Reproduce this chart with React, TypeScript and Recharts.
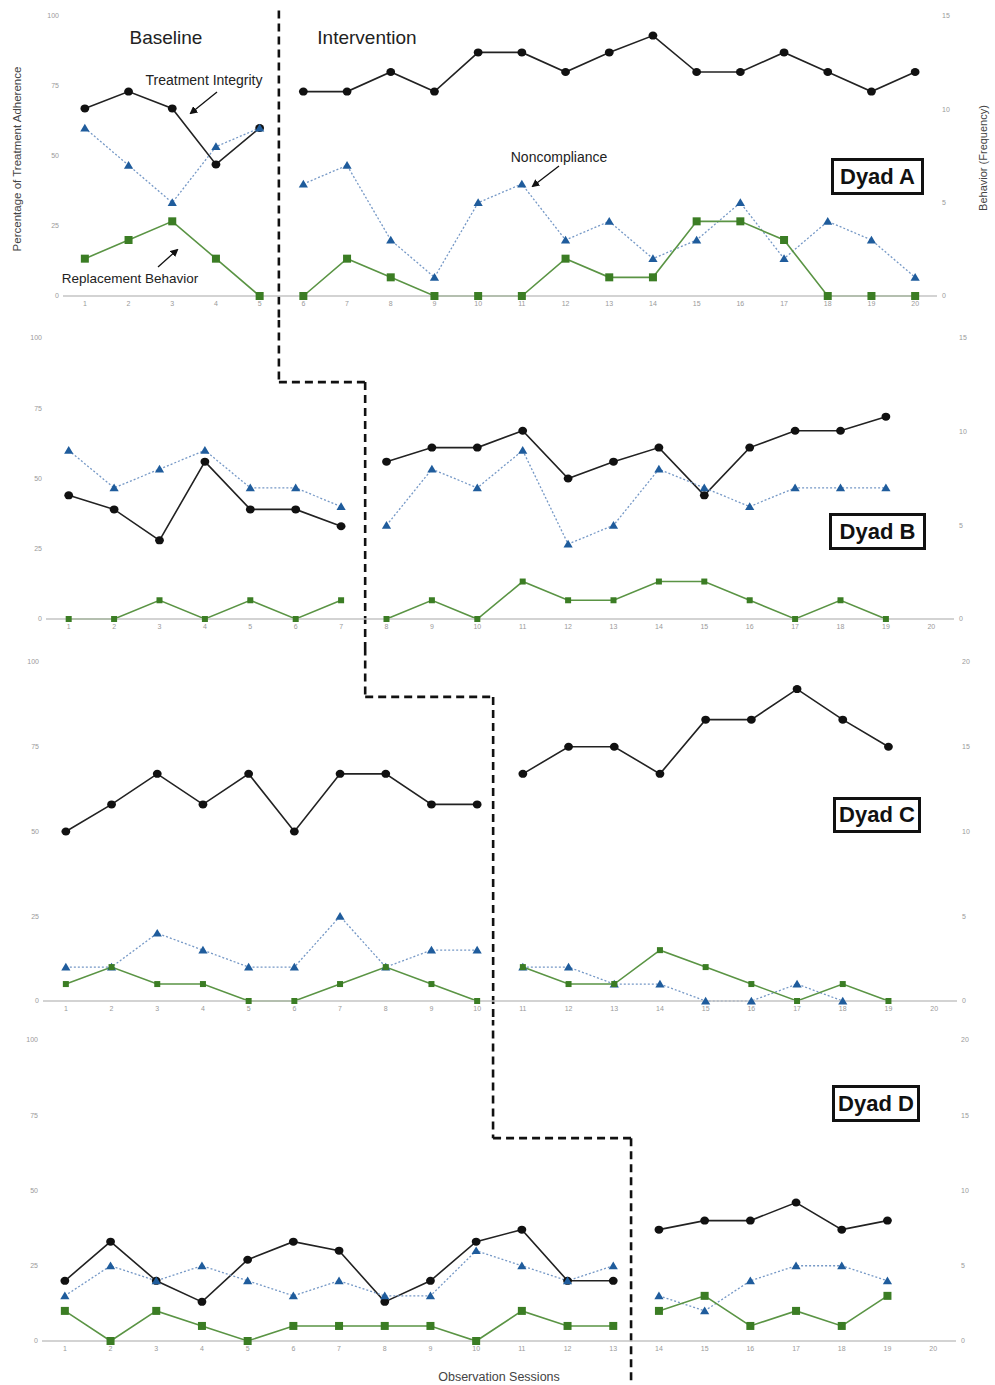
import React from 'react';
import { LineChart, Line, XAxis, YAxis, ReferenceLine } from 'recharts';

const W = 995;
const H = 1385;
const FONT = '"Liberation Sans", Arial, Helvetica, sans-serif';

const sessions = [1, 2, 3, 4, 5, 6, 7, 8, 9, 10, 11, 12, 13, 14, 15, 16, 17, 18, 19, 20];
const pctTicks = [0, 25, 50, 75, 100];
const freqTicks15 = [0, 5, 10, 15];
const freqTicks20 = [0, 5, 10, 15, 20];

// treatment integrity in %, noncompliance / replacement behaviour as frequency
const dyadATI = [67, 73, 67, 47, 60, 73, 73, 80, 73, 87, 87, 80, 87, 93, 80, 80, 87, 80, 73, 80];
const dyadANC = [9, 7, 5, 8, 9, 6, 7, 3, 1, 5, 6, 3, 4, 2, 3, 5, 2, 4, 3, 1];
const dyadARB = [2, 3, 4, 2, 0, 0, 2, 1, 0, 0, 0, 2, 1, 1, 4, 4, 3, 0, 0, 0];

const dyadBTI = [44, 39, 28, 56, 39, 39, 33, 56, 61, 61, 67, 50, 56, 61, 44, 61, 67, 67, 72];
const dyadBNC = [9, 7, 8, 9, 7, 7, 6, 5, 8, 7, 9, 4, 5, 8, 7, 6, 7, 7, 7];
const dyadBRB = [0, 0, 1, 0, 1, 0, 1, 0, 1, 0, 2, 1, 1, 2, 2, 1, 0, 1, 0];

const dyadCTI = [50, 58, 67, 58, 67, 50, 67, 67, 58, 58, 67, 75, 75, 67, 83, 83, 92, 83, 75];
const dyadCNC = [2, 2, 4, 3, 2, 2, 5, 2, 3, 3, 2, 2, 1, 1, 0, 0, 1, 0];
const dyadCRB = [1, 2, 1, 1, 0, 0, 1, 2, 1, 0, 2, 1, 1, 3, 2, 1, 0, 1, 0];

const dyadDTI = [20, 33, 20, 13, 27, 33, 30, 13, 20, 33, 37, 20, 20, 37, 40, 40, 46, 37, 40];
const dyadDNC = [3, 5, 4, 5, 4, 3, 4, 3, 3, 6, 5, 4, 5, 3, 2, 4, 5, 5, 4];
const dyadDRB = [2, 0, 2, 1, 0, 1, 1, 1, 1, 0, 2, 1, 1, 2, 3, 1, 2, 1, 3];

const baselineLengths = [5, 7, 10, 13];

// phase-change staircase: x of upper vertical, x of lower vertical (session units), y of step (%)
const phaseUpperX = [5.44, 5.63, 7.55, 10.37];
const phaseLowerX = [5.44, 7.53, 10.35, 13.39];
const phaseStepY = [102, 84.3, 89.7, 67.4];

type Row = Record<string, number | undefined>;

function buildRows(ti: number[], nc: number[], rb: number[], baseLen: number): Row[] {
  return sessions.map((s, i) => {
    const base = i < baseLen;
    return {
      session: s,
      tiB: base ? ti[i] : undefined,
      tiI: base ? undefined : ti[i],
      ncB: base ? nc[i] : undefined,
      ncI: base ? undefined : nc[i],
      rbB: base ? rb[i] : undefined,
      rbI: base ? undefined : rb[i],
    };
  });
}

const panels = [
  {
    name: 'Dyad A',
    rows: buildRows(dyadATI, dyadANC, dyadARB, baselineLengths[0]),
    freqTicks: freqTicks15,
    top: 0, height: 320, plotLeft: 63, plotRight: 937, plotTop: 16, plotBottom: 296,
    sq: 4, box: { left: 831, top: 158, width: 93, height: 37 },
  },
  {
    name: 'Dyad B',
    rows: buildRows(dyadBTI, dyadBNC, dyadBRB, baselineLengths[1]),
    freqTicks: freqTicks15,
    top: 320, height: 330, plotLeft: 46, plotRight: 954, plotTop: 18, plotBottom: 299,
    sq: 3, box: { left: 829, top: 513, width: 97, height: 37 },
  },
  {
    name: 'Dyad C',
    rows: buildRows(dyadCTI, dyadCNC, dyadCRB, baselineLengths[2]),
    freqTicks: freqTicks20,
    top: 650, height: 370, plotLeft: 43, plotRight: 957, plotTop: 12, plotBottom: 351,
    sq: 3, box: { left: 833, top: 797, width: 88, height: 36 },
  },
  {
    name: 'Dyad D',
    rows: buildRows(dyadDTI, dyadDNC, dyadDRB, baselineLengths[3]),
    freqTicks: freqTicks20,
    top: 1020, height: 365, plotLeft: 42, plotRight: 956, plotTop: 20, plotBottom: 321,
    sq: 4, box: { left: 832, top: 1085, width: 88, height: 37 },
  },
];

const tickStyle = { fontSize: 7, fill: '#9a9a9a', fontFamily: FONT };

function circleDot(props: any) {
  const { cx, cy, index, dataKey } = props;
  if (cx == null || cy == null) return <g key={`${dataKey}-${index}`} />;
  return <ellipse key={`${dataKey}-${index}`} cx={cx} cy={cy} rx={4.4} ry={4} fill="#111" />;
}

function triangleDot(props: any) {
  const { cx, cy, index, dataKey } = props;
  if (cx == null || cy == null) return <g key={`${dataKey}-${index}`} />;
  return (
    <polygon
      key={`${dataKey}-${index}`}
      points={`${cx},${cy - 4.3} ${cx + 4.6},${cy + 3.4} ${cx - 4.6},${cy + 3.4}`}
      fill="#1f5c9c"
    />
  );
}

function squareDot(half: number) {
  return (props: any) => {
    const { cx, cy, index, dataKey } = props;
    if (cx == null || cy == null) return <g key={`${dataKey}-${index}`} />;
    return (
      <rect
        key={`${dataKey}-${index}`}
        x={cx - half}
        y={cy - half}
        width={half * 2}
        height={half * 2}
        fill="#3b7d24"
      />
    );
  };
}

function DyadPanel({ p, idx }: { p: (typeof panels)[number]; idx: number }) {
  const yW = 30;
  const xH = 16;
  const margin = {
    top: p.plotTop,
    left: p.plotLeft - yW,
    right: W - p.plotRight - yW,
    bottom: p.height - p.plotBottom - xH,
  };
  const ux = phaseUpperX[idx];
  const lx = phaseLowerX[idx];
  const sy = phaseStepY[idx];
  const segments =
    idx === 0
      ? [[{ x: ux, y: sy }, { x: ux, y: -120 }]]
      : [
          [{ x: ux, y: 250 }, { x: ux, y: sy }],
          [{ x: ux, y: sy }, { x: lx, y: sy }],
          [{ x: lx, y: sy }, { x: lx, y: -120 }],
        ];
  const sqDot = squareDot(p.sq);

  return (
    <div style={{ position: 'absolute', left: 0, top: p.top, width: W, height: p.height }}>
      <LineChart width={W} height={p.height} data={p.rows} margin={margin}>
        <XAxis
          dataKey="session"
          type="number"
          domain={[0.5, 20.5]}
          ticks={sessions}
          interval={0}
          allowDataOverflow
          height={xH}
          axisLine={{ stroke: '#c4c4c4', strokeWidth: 1.5 }}
          tickLine={false}
          tickSize={0}
          tickMargin={5}
          tick={tickStyle}
        />
        <YAxis
          yAxisId="pct"
          orientation="left"
          domain={[0, 100]}
          ticks={pctTicks}
          width={yW}
          axisLine={false}
          tickLine={false}
          tickSize={0}
          tickMargin={4}
          tick={tickStyle}
        />
        <YAxis
          yAxisId="freq"
          orientation="right"
          domain={[0, p.freqTicks[p.freqTicks.length - 1]]}
          ticks={p.freqTicks}
          width={yW}
          axisLine={false}
          tickLine={false}
          tickSize={0}
          tickMargin={5}
          tick={tickStyle}
        />
        {segments.map((seg, i) => (
          <ReferenceLine
            key={`phase-${i}`}
            yAxisId="pct"
            segment={seg}
            ifOverflow="visible"
            stroke="#111"
            strokeWidth={2.6}
            strokeDasharray="8 5"
          />
        ))}
        {['tiB', 'tiI'].map((k) => (
          <Line
            key={k}
            yAxisId="pct"
            dataKey={k}
            type="linear"
            stroke="#222"
            strokeWidth={1.6}
            dot={circleDot}
            activeDot={false}
            isAnimationActive={false}
          />
        ))}
        {['ncB', 'ncI'].map((k) => (
          <Line
            key={k}
            yAxisId="freq"
            dataKey={k}
            type="linear"
            stroke="#7598c6"
            strokeWidth={1.3}
            strokeDasharray="2 2"
            dot={triangleDot}
            activeDot={false}
            isAnimationActive={false}
          />
        ))}
        {['rbB', 'rbI'].map((k) => (
          <Line
            key={k}
            yAxisId="freq"
            dataKey={k}
            type="linear"
            stroke="#5a9444"
            strokeWidth={1.6}
            dot={sqDot}
            activeDot={false}
            isAnimationActive={false}
          />
        ))}
      </LineChart>
    </div>
  );
}

function Arrow({ x1, y1, x2, y2 }: { x1: number; y1: number; x2: number; y2: number }) {
  return <line x1={x1} y1={y1} x2={x2} y2={y2} stroke="#111" strokeWidth={1.3} markerEnd="url(#arrowHead)" />;
}

export default function App() {
  return (
    <div
      style={{
        position: 'absolute',
        left: 0,
        top: 0,
        width: W,
        height: H,
        background: '#fff',
        overflow: 'hidden',
        fontFamily: FONT,
      }}
    >
      {panels.map((p, i) => (
        <DyadPanel key={p.name} p={p} idx={i} />
      ))}

      {/* annotations */}
      <svg
        width={W}
        height={H}
        style={{ position: 'absolute', left: 0, top: 0, pointerEvents: 'none' }}
      >
        <defs>
          <marker id="arrowHead" markerWidth="8" markerHeight="8" refX="6" refY="4" orient="auto" markerUnits="userSpaceOnUse">
            <path d="M0,0 L8,4 L0,8 Z" fill="#111" />
          </marker>
        </defs>
        <text x={166} y={37} fontSize={19} fill="#222" textAnchor="middle" dominantBaseline="central" fontFamily={FONT}>
          Baseline
        </text>
        <text x={367} y={37} fontSize={19} fill="#222" textAnchor="middle" dominantBaseline="central" fontFamily={FONT}>
          Intervention
        </text>
        <text x={204} y={80} fontSize={14} fill="#222" textAnchor="middle" dominantBaseline="central" fontFamily={FONT}>
          Treatment Integrity
        </text>
        <text x={130} y={278} fontSize={13.5} fill="#222" textAnchor="middle" dominantBaseline="central" fontFamily={FONT}>
          Replacement Behavior
        </text>
        <text x={559} y={157} fontSize={14} fill="#222" textAnchor="middle" dominantBaseline="central" fontFamily={FONT}>
          Noncompliance
        </text>
        <Arrow x1={217} y1={92} x2={191} y2={113} />
        <Arrow x1={158} y1={267} x2={177} y2={250} />
        <Arrow x1={559} y1={166} x2={533} y2={186} />
        <text
          x={17}
          y={159}
          fontSize={11.5}
          fill="#444"
          textAnchor="middle"
          dominantBaseline="central"
          fontFamily={FONT}
          transform="rotate(-90 17 159)"
        >
          Percentage of Treatment Adherence
        </text>
        <text
          x={983}
          y={158}
          fontSize={11}
          fill="#444"
          textAnchor="middle"
          dominantBaseline="central"
          fontFamily={FONT}
          transform="rotate(-90 983 158)"
        >
          Behavior (Frequency)
        </text>
        <text x={499} y={1377} fontSize={12.5} fill="#444" textAnchor="middle" dominantBaseline="central" fontFamily={FONT}>
          Observation Sessions
        </text>
      </svg>

      {panels.map((p) => (
        <div
          key={`box-${p.name}`}
          style={{
            position: 'absolute',
            left: p.box.left,
            top: p.box.top,
            width: p.box.width,
            height: p.box.height,
            boxSizing: 'border-box',
            border: '3px solid #111',
            background: '#fff',
            display: 'flex',
            alignItems: 'center',
            justifyContent: 'center',
            fontWeight: 700,
            fontSize: 22,
            color: '#111',
          }}
        >
          {p.name}
        </div>
      ))}
    </div>
  );
}
